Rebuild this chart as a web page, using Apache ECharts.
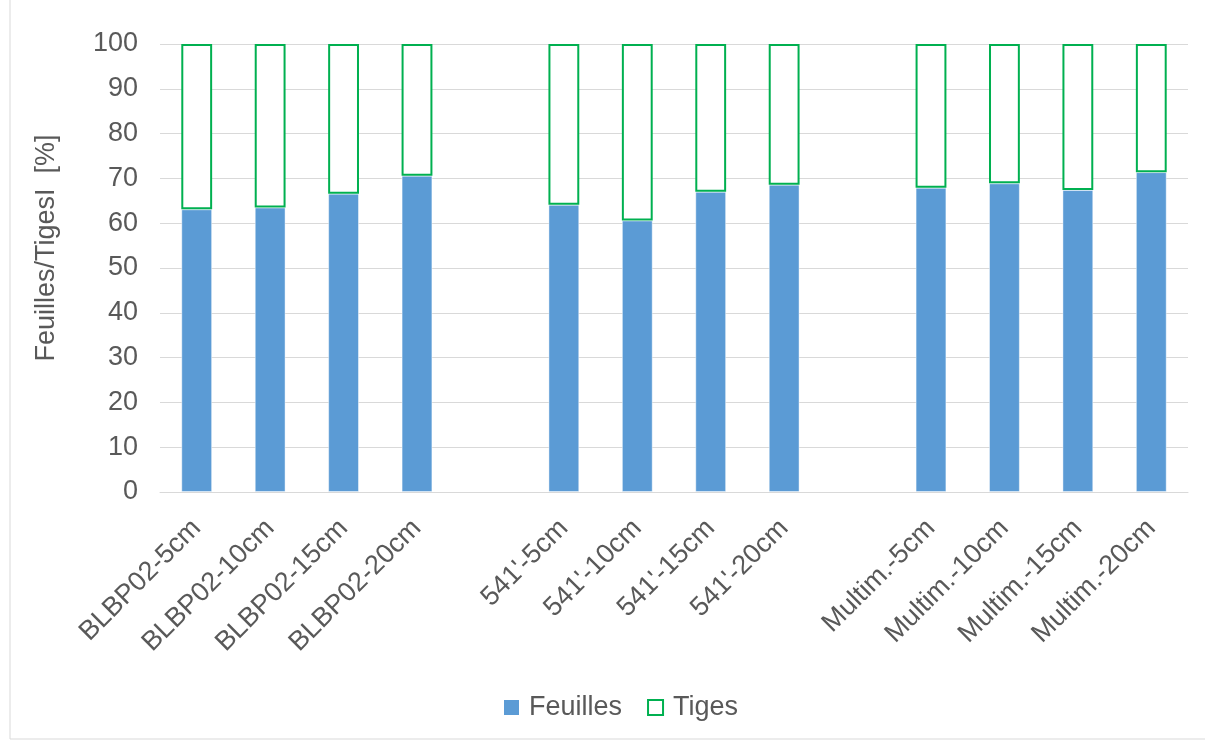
<!DOCTYPE html>
<html><head><meta charset="utf-8">
<script src="https://cdn.jsdelivr.net/npm/echarts@6/dist/echarts.min.js"></script>
<style>html,body{margin:0;padding:0;background:#fff}#c{width:1205px;height:742px}</style>
</head><body><div id="c"></div>
<script>
const categories = ['BLBP02-5cm','BLBP02-10cm','BLBP02-15cm','BLBP02-20cm','',"541'-5cm","541'-10cm","541'-15cm","541'-20cm",'','Multim.-5cm','Multim.-10cm','Multim.-15cm','Multim.-20cm'];
const feuilles = [63.1, 63.5, 66.6, 70.6, '-', 64.1, 60.6, 67.0, 68.6, '-', 67.9, 68.9, 67.4, 71.4];
const tiges    = [36.9, 36.5, 33.4, 29.4, '-', 35.9, 39.4, 33.0, 31.4, '-', 32.1, 31.1, 32.6, 28.6];
const yTicks = [0,10,20,30,40,50,60,70,80,90,100];

const chart = echarts.init(document.getElementById('c'));
const font = 'Liberation Sans, Arial, sans-serif';
chart.setOption({
  animation: false,
  textStyle: {fontFamily: font},
  graphic: [{type:'rect', shape:{x:10,y:-2,width:1200,height:741}, style:{fill:'none', stroke:'#d9d9d9', lineWidth:1}}],
  grid: {left:160, right:17, top:44, bottom:250, containLabel:false},
  legend: {
    bottom: 16, left: 499, itemWidth: 15, itemHeight: 15, itemGap: 25,
    textStyle: {fontSize: 27, color: '#595959', fontFamily: font, padding:[0,0,0,5]},
    data: [
      {name:'Feuilles', icon:'rect', itemStyle:{color:'#5B9BD5', borderWidth:0}},
      {name:'Tiges', icon:'rect', itemStyle:{color:'#fff', borderColor:'#00B050', borderWidth:2}}
    ]
  },
  xAxis: {
    type:'category', data: categories,
    axisLine:{show:true, lineStyle:{color:'#d9d9d9', width:1}},
    axisTick:{show:false},
    axisLabel:{interval:0, rotate:45, fontSize:27, color:'#595959', fontFamily:font, margin:32}
  },
  yAxis: {
    type:'value', min:0, max:100, interval:10,
    name:'Feuilles/TigesI  [%]', nameLocation:'middle', nameGap:100, nameRotate:90,
    nameTextStyle:{fontSize:27, color:'#595959', fontFamily:font, padding:[0,0,0,40]},
    axisLine:{show:false}, axisTick:{show:false},
    axisLabel:{fontSize:27, color:'#595959', fontFamily:font, margin:22,
      formatter: v => yTicks.includes(v) ? String(v) : ''},
    splitLine:{lineStyle:{color:'#d9d9d9', width:1}}
  },
  series: [
    {name:'Feuilles', type:'bar', stack:'s', data: feuilles, barWidth:'42%',
     itemStyle:{color:'#5B9BD5', borderColor:'rgba(255,255,255,0.45)', borderWidth:1}},
    {name:'Tiges', type:'bar', stack:'s', data: tiges, barWidth:'42%',
     itemStyle:{color:'#ffffff', borderColor:'#00B050', borderWidth:2}}
  ]
});
</script></body></html>
